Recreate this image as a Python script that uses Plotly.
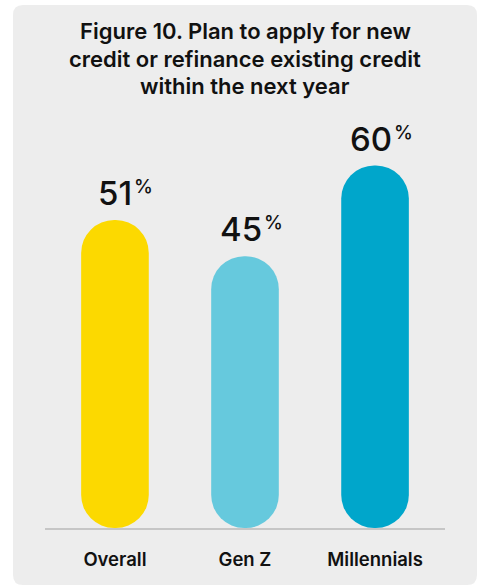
import plotly.graph_objects as go

# Survey results
categories = ["Overall", "Gen Z", "Millennials"]
values = [51, 45, 60]
bar_colors = ["#FCD900", "#66C9DD", "#00A6CB"]
title_lines = [
    "Figure 10. Plan to apply for new",
    "credit or refinance existing credit",
    "within the next year",
]

FONT = "Inter"
W, H = 484, 587
L, R, T, B = 45, 39, 100, 59
PX_PER_PT = 6.04
plot_h = H - T - B
pw = W - L - R
y_max = plot_h / PX_PER_PT

fig = go.Figure()

# Pill-shaped bars: an explicit base makes plotly round both ends
fig.add_trace(go.Bar(
    x=categories, y=values, base=[0] * len(values), width=0.52,
    marker=dict(color=bar_colors, cornerradius="50%", line=dict(width=0)),
    hovertemplate="%{x}: %{y}%<extra></extra>", showlegend=False,
))

# Value labels above each bar: the number, then a small raised percent sign
for c, v in zip(categories, values):
    fig.add_annotation(
        x=c, y=v, text=str(v), showarrow=False,
        xanchor="right", yanchor="bottom", xshift=18, yshift=6, borderpad=0,
        font=dict(family=FONT, size=33, color="#111111", weight=500),
    )
    fig.add_annotation(
        x=c, y=v, text="%", showarrow=False,
        xanchor="left", yanchor="bottom", xshift=18, yshift=21, borderpad=0,
        font=dict(family=FONT, size=19, color="#111111", weight=500),
    )

# Title, one annotation per line for tight leading
title_size, leading, mid_line_y = 22, 27.2, 58.7
for i, line in enumerate(title_lines):
    y_px = mid_line_y + (i - 1) * leading
    fig.add_annotation(
        xref="paper", yref="paper", x=0.5, y=1 + (T - y_px) / plot_h,
        text=line, showarrow=False, xanchor="center", yanchor="middle",
        borderpad=0,
        font=dict(family=FONT, size=title_size, color="#111111", weight=600),
    )

# Grey rounded panel behind the chart
px0, px1, py0, py1, r = 13, 477, 5, 585, 10


def fx(p):
    return (p - L) / pw


def fy(p):
    return (H - B - p) / plot_h


path = (
    f"M {fx(px0 + r)},{fy(py0)} L {fx(px1 - r)},{fy(py0)} "
    f"Q {fx(px1)},{fy(py0)} {fx(px1)},{fy(py0 + r)} "
    f"L {fx(px1)},{fy(py1 - r)} Q {fx(px1)},{fy(py1)} {fx(px1 - r)},{fy(py1)} "
    f"L {fx(px0 + r)},{fy(py1)} Q {fx(px0)},{fy(py1)} {fx(px0)},{fy(py1 - r)} "
    f"L {fx(px0)},{fy(py0 + r)} Q {fx(px0)},{fy(py0)} {fx(px0 + r)},{fy(py0)} Z"
)
fig.add_shape(type="path", path=path, xref="paper", yref="paper",
              fillcolor="#EDEDED", line=dict(width=0), layer="below")

fig.update_layout(
    width=W, height=H,
    margin=dict(l=L, r=R, t=T, b=B),
    paper_bgcolor="white", plot_bgcolor="rgba(0,0,0,0)",
    xaxis=dict(
        type="category", range=[-0.538, 2.538],
        showline=True, linecolor="#C6C6C6", linewidth=1.5,
        showgrid=False, zeroline=False, ticks="",
        ticklabelstandoff=14,
        tickfont=dict(family=FONT, size=18.5, color="#111111", weight=600),
        fixedrange=True,
    ),
    yaxis=dict(range=[0, y_max], visible=False, fixedrange=True),
    font=dict(family=FONT),
)

fig.write_html("out.html")
